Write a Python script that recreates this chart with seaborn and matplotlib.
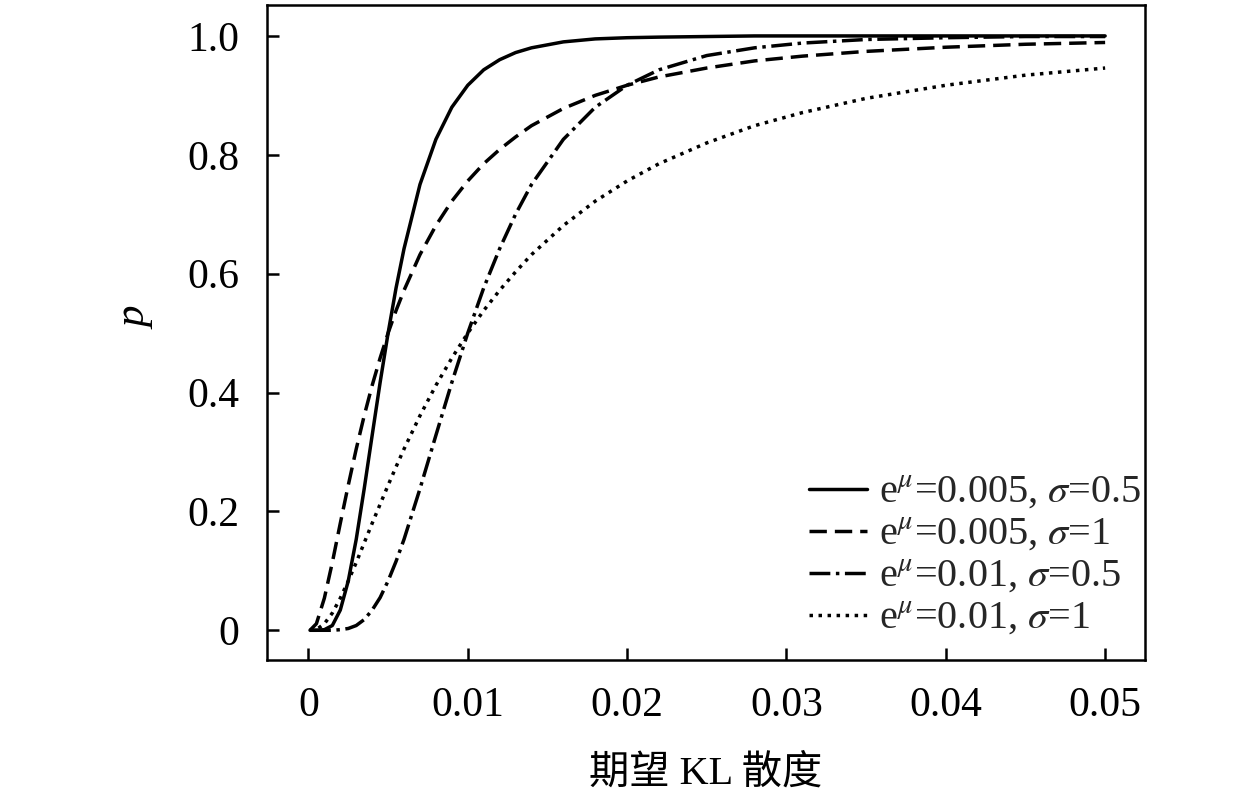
import matplotlib
matplotlib.use('Agg')
import matplotlib.pyplot as plt
import seaborn as sns
import pandas as pd

# expected KL divergence (x) and probability p for the four parameter sets
kl = [0.0001, 0.0005, 0.001, 0.0015, 0.002, 0.0025, 0.003, 0.0035, 0.004, 0.0045,
      0.005, 0.0055, 0.006, 0.007, 0.008, 0.009, 0.010, 0.011, 0.012, 0.013,
      0.014, 0.016, 0.018, 0.020, 0.022, 0.025, 0.028, 0.031, 0.035, 0.040,
      0.045, 0.050]

p_005_05 = [0, 0, 0.001, 0.008, 0.034, 0.083, 0.153, 0.238, 0.328, 0.417,
            0.5, 0.576, 0.642, 0.750, 0.826, 0.880, 0.917, 0.943, 0.960, 0.972,
            0.980, 0.990, 0.995, 0.997, 0.998, 0.999, 1.0, 1.0, 1.0, 1.0,
            1.0, 1.0]
p_005_1 = [0, 0.011, 0.054, 0.114, 0.180, 0.244, 0.305, 0.361, 0.412, 0.458,
           0.5, 0.538, 0.572, 0.632, 0.681, 0.722, 0.756, 0.785, 0.809, 0.830,
           0.849, 0.878, 0.900, 0.917, 0.931, 0.946, 0.958, 0.966, 0.974, 0.981,
           0.986, 0.989]
p_01_05 = [0, 0, 0, 0, 0.001, 0.003, 0.008, 0.018, 0.034, 0.055,
           0.083, 0.116, 0.153, 0.238, 0.328, 0.417, 0.5, 0.576, 0.642, 0.700,
           0.750, 0.826, 0.880, 0.917, 0.943, 0.967, 0.980, 0.988, 0.994, 0.997,
           0.999, 0.999]
p_01_1 = [0, 0.001, 0.011, 0.029, 0.054, 0.083, 0.114, 0.147, 0.180, 0.212,
          0.244, 0.275, 0.305, 0.361, 0.412, 0.458, 0.5, 0.538, 0.572, 0.603,
          0.632, 0.681, 0.722, 0.756, 0.785, 0.820, 0.849, 0.871, 0.895, 0.917,
          0.934, 0.946]

labels = [r'e$^{\mu}$=0.005, $\sigma$=0.5',
          r'e$^{\mu}$=0.005, $\sigma$=1',
          r'e$^{\mu}$=0.01, $\sigma$=0.5',
          r'e$^{\mu}$=0.01, $\sigma$=1']
series = [p_005_05, p_005_1, p_01_05, p_01_1]

xticks = [0, 0.01, 0.02, 0.03, 0.04, 0.05]
xticklabels = ['0', '0.01', '0.02', '0.03', '0.04', '0.05']
yticks = [0, 0.2, 0.4, 0.6, 0.8, 1.0]
yticklabels = ['0', '0.2', '0.4', '0.6', '0.8', '1.0']

frames = []
for lab, vals in zip(labels, series):
    frames.append(pd.DataFrame({'kl': kl, 'p': vals, 'curve': lab}))
df = pd.concat(frames, ignore_index=True)

sns.set_theme(style='white')
plt.rcParams['font.family'] = ['Liberation Serif', 'Noto Sans CJK SC']
plt.rcParams['mathtext.fontset'] = 'stix'

fig = plt.figure(figsize=(12.6, 8.11), dpi=100)
ax = fig.add_axes([0.2119, 0.1862, 0.6968, 0.8076])

dashes = {
    labels[0]: '',
    labels[1]: (5, 2.3),
    labels[2]: (6, 1.6, 1, 1.6),
    labels[3]: (1, 1.6),
}
sns.lineplot(data=df, x='kl', y='p', style='curve', dashes=dashes,
             style_order=labels, color='black', linewidth=2.5, ax=ax,
             estimator=None, sort=False)

ax.set_xlim(-0.0026, 0.0525)
ax.set_ylim(-0.05, 1.052)
ax.set_xticks(xticks)
ax.set_xticklabels(xticklabels)
ax.set_yticks(yticks)
ax.set_yticklabels(yticklabels)
ax.tick_params(axis='both', direction='in', length=8.6, width=1.8,
               labelsize=30, color='black', labelcolor='black',
               left=True, bottom=True, right=False, top=False)
ax.tick_params(axis='y', pad=20)
ax.tick_params(axis='x', pad=19)
for s in ax.spines.values():
    s.set_color('black')
    s.set_linewidth(1.8)

ax.set_xlabel('期望 KL 散度', fontsize=29, color='black')
ax.set_ylabel('p', fontsize=31, style='italic', color='black')
ax.xaxis.set_label_coords(0.5, -0.145)
ax.yaxis.set_label_coords(-0.127, 0.522)

handles, labs = ax.get_legend_handles_labels()
ax.legend(handles, labs, loc='lower right', bbox_to_anchor=(0.996, 0.034),
          frameon=False, fontsize=29, handlelength=1.45, handletextpad=0.3,
          labelspacing=0.12, borderpad=0, borderaxespad=0)

fig.savefig('out.png', dpi=100)
